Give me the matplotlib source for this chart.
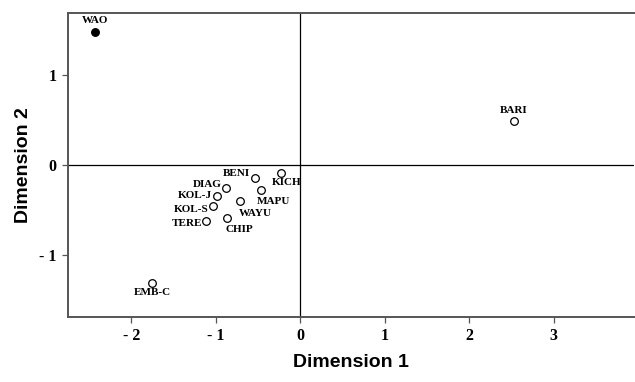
import matplotlib
matplotlib.use('Agg')
import matplotlib.pyplot as plt

# point data
names = ['WAO', 'BARI', 'BENI', 'KICH', 'DIAG', 'MAPU', 'KOL-J', 'KOL-S',
         'WAYU', 'TERE', 'CHIP', 'EMB-C']
dim1 = [-2.43, 2.53, -0.54, -0.23, -0.88, -0.46, -0.99, -1.03, -0.71, -1.11, -0.87, -1.75]
dim2 = [1.48, 0.49, -0.14, -0.09, -0.25, -0.28, -0.34, -0.46, -0.40, -0.62, -0.59, -1.31]
filled = [True] + [False] * 11

xticks = [-2, -1, 0, 1, 2, 3]
xticklabels = ['- 2', '- 1', '0', '1', '2', '3']
yticks = [-1, 0, 1]
yticklabels = ['- 1', '0', '1']

# label offsets in points and alignment
lab = {
    'WAO': (0, 5, 'center', 'bottom'),
    'BARI': (0, 4, 'center', 'bottom'),
    'BENI': (-3, 3, 'right', 'center'),
    'KICH': (4, -7, 'center', 'center'),
    'DIAG': (-3, 2, 'right', 'center'),
    'MAPU': (9, -8, 'center', 'center'),
    'KOL-J': (-3, 0, 'right', 'center'),
    'KOL-S': (-3, -2, 'right', 'center'),
    'WAYU': (11, -9, 'center', 'center'),
    'TERE': (-3, -2, 'right', 'center'),
    'CHIP': (9, -8, 'center', 'center'),
    'EMB-C': (0, -4, 'center', 'top'),
}

fig = plt.figure(figsize=(6.35, 3.82), dpi=100)
ax = fig.add_axes([0.107, 0.170, 0.891, 0.796])

ax.axhline(0, color='black', lw=0.9, zorder=1)
ax.axvline(0, color='black', lw=0.9, zorder=1)

for n, x, y, f in zip(names, dim1, dim2, filled):
    ax.plot(x, y, 'o', ms=5.5, mfc='black' if f else 'white', mec='black', mew=0.9, zorder=3)
    dx, dy, ha, va = lab[n]
    ax.annotate(n, (x, y), xytext=(dx, dy), textcoords='offset points', ha=ha, va=va,
                fontsize=8, fontweight='bold', family='Liberation Serif')

ax.set_xlim(-2.75, 3.95)
ax.set_ylim(-1.69, 1.69)
ax.set_xticks(xticks)
ax.set_xticklabels(xticklabels)
ax.set_yticks(yticks)
ax.set_yticklabels(yticklabels)
for t in ax.get_xticklabels() + ax.get_yticklabels():
    t.set_family('Liberation Serif')
    t.set_fontweight('bold')
    t.set_fontsize(11.5)
ax.tick_params(direction='out', length=4, width=0.9, color='#555555', pad=4)

ax.spines['right'].set_visible(False)
for s in ['left', 'bottom', 'top']:
    ax.spines[s].set_color('#555555')
    ax.spines[s].set_linewidth(1.4)

ax.set_xlabel('Dimension 1', family='Liberation Sans', fontweight='bold', fontsize=14, labelpad=7)
ax.set_ylabel('Dimension 2', family='Liberation Sans', fontweight='bold', fontsize=14, labelpad=5)

fig.savefig('out.png', dpi=100)
